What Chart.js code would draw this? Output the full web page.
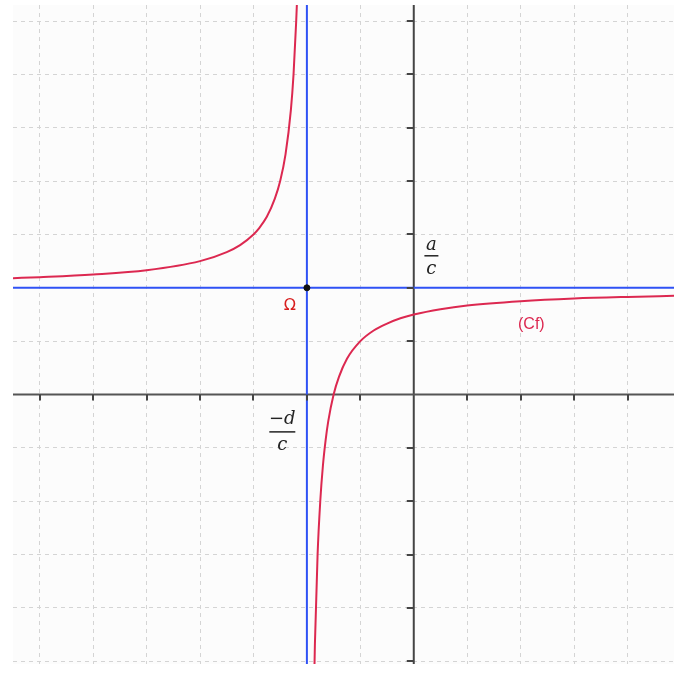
<!DOCTYPE html>
<html>
<head>
<meta charset="utf-8">
<script src="https://cdn.jsdelivr.net/npm/chart.js@4.4.1/dist/chart.umd.min.js"></script>
<style>
  html, body { margin: 0; padding: 0; background: #fff; }
  #wrap { width: 688px; height: 681px; }
</style>
</head>
<body>
<div id="wrap"><canvas id="graph"></canvas></div>
<script>
// Values
const xTicks = [-7, -6, -5, -4, -3, -2, -1, 1, 2, 3, 4];
const yTicks = [-5, -4, -3, -2, -1, 1, 2, 3, 4, 5, 6, 7];

// left branch of (Cf)
const leftX = [-7.5, -7, -6, -5, -4, -3.5, -3.25, -3, -2.9, -2.75, -2.6, -2.5, -2.4, -2.3, -2.25, -2.2, -2.18];
const leftY = [2.18, 2.2, 2.25, 2.33, 2.5, 2.67, 2.8, 3, 3.11, 3.33, 3.67, 4, 4.5, 5.33, 6, 7, 7.5];

// right branch of (Cf)
const rightX = [-1.86, -1.85, -1.8, -1.75, -1.7, -1.65, -1.6, -1.5, -1.4, -1.25, -1, -0.75, -0.5, -0.25, 0, 0.5, 1, 2, 3, 4, 4.9];
const rightY = [-5.2, -4.67, -3, -2, -1.33, -0.86, -0.5, 0, 0.33, 0.67, 1, 1.2, 1.33, 1.43, 1.5, 1.6, 1.67, 1.75, 1.8, 1.83, 1.85];

// asymptotes and centre Omega
const asymX = -2;
const asymY = 2;

const xMin = -7.5, xMax = 4.87, yMin = -5.05, yMax = 7.3;

const toPts = (xs, ys) => xs.map((x, i) => ({ x: x, y: ys[i] }));

const curveColor = "#dc2850";
const blue = "#2f52f5";

// background of plot area + axis ticks + text labels
const decor = {
  id: "decor",
  beforeDraw(chart) {
    const { ctx, chartArea: a } = chart;
    ctx.save();
    ctx.fillStyle = "#fcfcfc";
    ctx.fillRect(a.left, a.top, a.right - a.left, a.bottom - a.top);
    ctx.restore();
  },
  afterDatasetsDraw(chart) {
    const { ctx } = chart;
    const sx = chart.scales.x, sy = chart.scales.y;
    const x0 = sx.getPixelForValue(0), y0 = sy.getPixelForValue(0);
    ctx.save();
    // little tick marks on the axes
    ctx.strokeStyle = "#444";
    ctx.lineWidth = 2;
    ctx.beginPath();
    xTicks.forEach(v => {
      const px = Math.round(sx.getPixelForValue(v));
      ctx.moveTo(px, y0);
      ctx.lineTo(px, y0 + 6);
    });
    yTicks.forEach(v => {
      const py = Math.round(sy.getPixelForValue(v));
      ctx.moveTo(x0, py);
      ctx.lineTo(x0 - 7, py);
    });
    ctx.stroke();

    // fraction a/c
    ctx.fillStyle = "#222";
    ctx.strokeStyle = "#222";
    ctx.lineWidth = 1.5;
    ctx.textAlign = "center";
    ctx.textBaseline = "alphabetic";
    ctx.font = "italic 18px 'DejaVu Serif', serif";
    let cx = sx.getPixelForValue(0.33), cy = sy.getPixelForValue(2.6);
    ctx.fillText("a", cx, cy - 6);
    ctx.beginPath();
    ctx.moveTo(cx - 7, cy); ctx.lineTo(cx + 7, cy); ctx.stroke();
    ctx.fillText("c", cx, cy + 18);

    // fraction -d/c
    cx = sx.getPixelForValue(-2.46); cy = sy.getPixelForValue(-0.7);
    ctx.fillText("\u2212d", cx, cy - 8);
    ctx.beginPath();
    ctx.moveTo(cx - 13, cy); ctx.lineTo(cx + 13, cy); ctx.stroke();
    ctx.fillText("c", cx, cy + 18);

    // Omega and (Cf)
    ctx.fillStyle = "#d81e1e";
    ctx.font = "16px 'DejaVu Sans', sans-serif";
    ctx.fillText("\u03a9", sx.getPixelForValue(-2.32), sy.getPixelForValue(1.58));
    ctx.fillStyle = curveColor;
    ctx.font = "16px 'Liberation Sans', Arial, sans-serif";
    ctx.fillText("(Cf)", sx.getPixelForValue(2.2), sy.getPixelForValue(1.22));
    ctx.restore();
  }
};

new Chart(document.getElementById("graph"), {
  type: "line",
  data: {
    datasets: [
      {
        label: "Cf left",
        data: toPts(leftX, leftY),
        borderColor: curveColor, borderWidth: 2, pointRadius: 0,
        cubicInterpolationMode: "monotone", order: 1
      },
      {
        label: "Cf right",
        data: toPts(rightX, rightY),
        borderColor: curveColor, borderWidth: 2, pointRadius: 0,
        cubicInterpolationMode: "monotone", order: 1
      },
      {
        label: "Omega",
        data: [{ x: asymX, y: asymY }],
        showLine: false, pointRadius: 3, pointBackgroundColor: "#111",
        pointBorderColor: "#111", order: 0
      },
      {
        label: "asymptote x",
        data: [{ x: asymX, y: yMin - 1 }, { x: asymX, y: yMax + 1 }],
        borderColor: blue, borderWidth: 2, pointRadius: 0, order: 2
      },
      {
        label: "asymptote y",
        data: [{ x: xMin - 1, y: asymY }, { x: xMax + 1, y: asymY }],
        borderColor: blue, borderWidth: 2, pointRadius: 0, order: 2
      },
      {
        label: "x axis",
        data: [{ x: xMin - 1, y: 0 }, { x: xMax + 1, y: 0 }],
        borderColor: "#555", borderWidth: 2, pointRadius: 0, order: 3
      },
      {
        label: "y axis",
        data: [{ x: 0, y: yMin - 1 }, { x: 0, y: yMax + 1 }],
        borderColor: "#444", borderWidth: 2, pointRadius: 0, order: 3
      }
    ]
  },
  options: {
    responsive: true,
    maintainAspectRatio: false,
    animation: false,
    layout: { padding: { left: 13, right: 14, top: 5, bottom: 17 } },
    plugins: { legend: { display: false }, tooltip: { enabled: false } },
    scales: {
      x: {
        type: "linear", min: xMin, max: xMax,
        afterBuildTicks: s => { s.ticks = [-7, -6, -5, -4, -3, -2, -1, 0, 1, 2, 3, 4].map(v => ({ value: v })); },
        ticks: { display: false },
        grid: { color: "#d4d4d4", lineWidth: 1, drawTicks: false },
        border: { display: false, dash: [4, 4] }
      },
      y: {
        type: "linear", min: yMin, max: yMax,
        afterBuildTicks: s => { s.ticks = [-5, -4, -3, -2, -1, 0, 1, 2, 3, 4, 5, 6, 7].map(v => ({ value: v })); },
        ticks: { display: false },
        grid: { color: "#d4d4d4", lineWidth: 1, drawTicks: false },
        border: { display: false, dash: [4, 4] }
      }
    }
  },
  plugins: [decor]
});
</script>
</body>
</html>
